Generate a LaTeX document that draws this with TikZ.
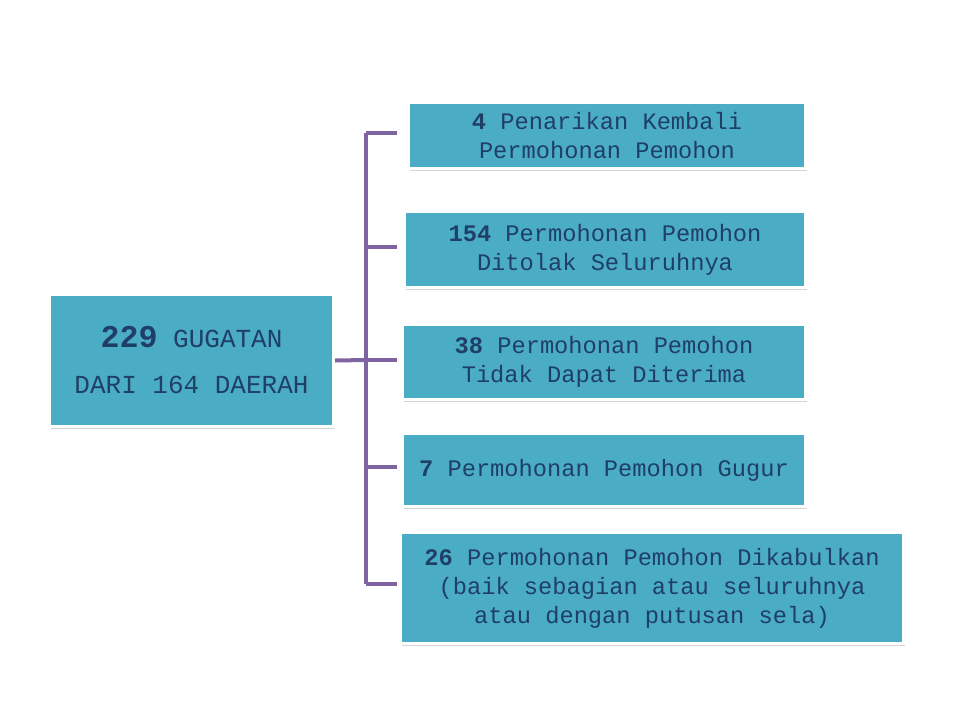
\documentclass[tikz,border=0pt]{standalone}
\usepackage{fontspec}
\setmainfont{Liberation Mono}
\usetikzlibrary{shadows}
\definecolor{boxfill}{HTML}{4BACC6}
\definecolor{boxtext}{HTML}{1F3F66}
\definecolor{conncol}{HTML}{8064A2}
\tikzset{
  card/.style={draw=white, line width=3pt, fill=boxfill, text=boxtext,
    align=center, inner sep=0pt,
    font=\fontsize{23.7}{29}\selectfont,
    drop shadow={shadow xshift=1.5pt, shadow yshift=-2.5pt, opacity=0.3, fill=black!55}},
  conn/.style={draw=conncol, line width=4pt}
}
\begin{document}
\begin{tikzpicture}[x=1pt,y=-1pt]
\useasboundingbox[fill=white] (0,0) rectangle (960,720);
\node[card, minimum width=284pt, minimum height=132pt, font=\fontsize{26}{46}\selectfont] (main) at (191.5,360.5)
  {{\fontsize{31.7}{46}\selectfont\textbf{229}} GUGATAN\\DARI 164 DAERAH};
\node[card, minimum width=397pt, minimum height=66pt] (b1) at (607,135.5)
  {\textbf{4} Penarikan Kembali\\Permohonan Pemohon};
\node[card, minimum width=401pt, minimum height=76pt] (b2) at (605,249.5)
  {\textbf{154} Permohonan Pemohon\\Ditolak Seluruhnya};
\node[card, minimum width=403pt, minimum height=75pt] (b3) at (604,362)
  {\textbf{38} Permohonan Pemohon\\Tidak Dapat Diterima};
\node[card, minimum width=403pt, minimum height=73pt] (b4) at (604,470)
  {\textbf{7} Permohonan Pemohon Gugur};
\node[card, minimum width=503pt, minimum height=111pt] (b5) at (652,588)
  {\textbf{26} Permohonan Pemohon Dikabulkan\\(baik sebagian atau seluruhnya\\atau dengan putusan sela)};
\coordinate (sp) at (366,360);
\draw[conn] (main.east) -- (sp);
\draw[conn] ([yshift=2.5pt]sp |- b1.west) -- ([yshift=4pt]sp |- b5.west);
\draw[conn, shorten >=10pt] ([yshift=2.5pt]sp |- b1.west) -- ([yshift=2.5pt]b1.west);
\draw[conn, shorten >=6pt] ([yshift=3pt]sp |- b2.west) -- ([yshift=3pt]b2.west);
\draw[conn, shorten >=4pt] (sp) -- (sp -| b3.west);
\draw[conn, shorten >=4pt] ([yshift=3pt]sp |- b4.west) -- ([yshift=3pt]b4.west);
\draw[conn, shorten >=2pt] ([yshift=4pt]sp |- b5.west) -- ([yshift=4pt]b5.west);
\end{tikzpicture}
\end{document}
